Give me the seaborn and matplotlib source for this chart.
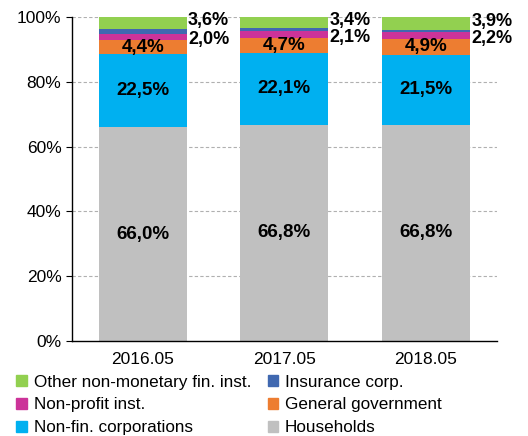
import numpy as np
import pandas as pd
import seaborn as sns
import matplotlib.pyplot as plt
from matplotlib.patches import Patch

periods = ["2016.05", "2017.05", "2018.05"]
households = [66.0, 66.8, 66.8]
non_fin = [22.5, 22.1, 21.5]
gen_gov = [4.4, 4.7, 4.9]
non_profit = [2.0, 2.1, 2.2]
insurance = [1.5, 0.9, 0.7]
other_fin = [3.6, 3.4, 3.9]

names = ["Households", "Non-fin. corporations", "General government",
         "Non-profit inst.", "Insurance corp.", "Other non-monetary fin. inst."]
colors = ["#C0C0C0", "#00B0F0", "#ED7D31", "#CC3399", "#4068B0", "#92D050"]
series = [households, non_fin, gen_gov, non_profit, insurance, other_fin]

sns.set_style("white")
plt.rcParams['font.family'] = ['Liberation Sans', 'DejaVu Sans']
plt.rcParams['text.color'] = 'black'
plt.rcParams['xtick.color'] = 'black'
plt.rcParams['ytick.color'] = 'black'

df = pd.DataFrame({n: v for n, v in zip(names, series)}, index=periods)
cum = df.cumsum(axis=1)

fig = plt.figure(figsize=(5.28, 4.36), dpi=100)
ax = fig.add_axes([0.136, 0.218, 0.805, 0.743])

for y in [20, 40, 60, 80, 100]:
    ax.axhline(y, color="#B0B0B0", lw=0.8, ls=(0, (3, 2)), zorder=0)

# stacked via cumulative totals, tallest first
bw = 0.62
for name, col in reversed(list(zip(names, colors))):
    sns.barplot(x=periods, y=cum[name].values, color=col, width=bw,
                saturation=1, ax=ax, linewidth=0, zorder=2)

# labels inside
for name in ["Households", "Non-fin. corporations", "General government"]:
    for i, p in enumerate(periods):
        mid = cum.loc[p, name] - df.loc[p, name] / 2
        ax.text(i, mid, f"{df.loc[p, name]:.1f}%".replace(".", ","),
                ha="center", va="center", fontsize=13.5, fontweight="bold", zorder=3)
# labels right of bar, nudged apart a little so they do not collide
for name, nudge in [("Non-profit inst.", -0.9), ("Other non-monetary fin. inst.", 0.6)]:
    for i, p in enumerate(periods):
        mid = cum.loc[p, name] - df.loc[p, name] / 2 + nudge
        ax.text(i + bw / 2 + 0.01, mid, f"{df.loc[p, name]:.1f}%".replace(".", ","),
                ha="left", va="center", fontsize=13, fontweight="bold", zorder=3)

ax.set_xlim(-0.5, 2.5)
ax.set_ylim(0, 100)
ax.set_yticks([0, 20, 40, 60, 80, 100])
ax.set_yticklabels([f"{v}%" for v in range(0, 101, 20)], fontsize=12.5)
ax.set_xticks([0, 1, 2])
ax.set_xticklabels(periods, fontsize=12.5)
ax.set_xticks([-0.5, 0.5, 1.5, 2.5], minor=True)
ax.tick_params(axis="x", which="major", length=0, pad=8)
ax.tick_params(axis="x", which="minor", length=4, direction="out", color="black")
ax.tick_params(axis="y", length=4, direction="out", color="black", left=True)
ax.set_xlabel("")
ax.set_ylabel("")
for s in ["top", "right"]:
    ax.spines[s].set_visible(False)
for s in ["left", "bottom"]:
    ax.spines[s].set_color("black")
    ax.spines[s].set_linewidth(1)

order = [5, 3, 1, 4, 2, 0]
handles = [Patch(color=colors[k], label=names[k]) for k in order]
fig.legend(handles=handles, ncol=2, loc="upper left", bbox_to_anchor=(0.015, 0.16),
           frameon=False, fontsize=12.3, handlelength=0.6, handleheight=0.6,
           handletextpad=0.4, columnspacing=1.0, labelspacing=0.45, borderpad=0)

fig.savefig("out.png", dpi=100)
